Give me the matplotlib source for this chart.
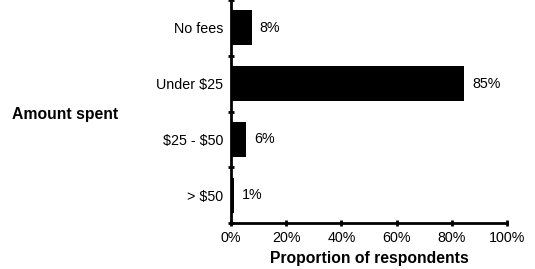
import matplotlib
matplotlib.use("Agg")
import matplotlib.pyplot as plt
from matplotlib.ticker import FixedLocator, NullFormatter

categories = ["No fees", "Under $25", "$25 - $50", "> $50"]
values = [7.5, 84.5, 5.5, 1]
value_labels = ["8%", "85%", "6%", "1%"]
xticks = [0, 20, 40, 60, 80, 100]
xtick_labels = ["0%", "20%", "40%", "60%", "80%", "100%"]

plt.rcParams['font.family'] = ['Liberation Sans', 'DejaVu Sans']
plt.rcParams['text.parse_math'] = False

fig = plt.figure(figsize=(5.35, 2.69), dpi=100)
ax = fig.add_axes([231/535, (269-223)/269, (507-231)/535, 223/269])

y = list(range(len(categories)))
ax.barh(y, values, height=0.63, color="black")
for yi, v, lab in zip(y, values, value_labels):
    ax.text(v + 2.8, yi, lab, va="center", ha="left", fontsize=10.3)

ax.set_xlim(0, 100)
ax.set_ylim(3.5, -0.5)
ax.set_yticks(y)
ax.set_yticklabels(categories, fontsize=10.3)
ax.yaxis.set_minor_locator(FixedLocator([-0.5, 0.5, 1.5, 2.5, 3.5]))
ax.yaxis.set_minor_formatter(NullFormatter())
ax.tick_params(axis="y", which="major", length=0, pad=5.5)
ax.tick_params(axis="y", which="minor", length=5, width=2, direction="inout")
ax.set_xticks(xticks)
ax.set_xticklabels(xtick_labels, fontsize=10.3)
ax.tick_params(axis="x", which="major", length=5, width=2, direction="inout", pad=3.5)

for s in ["top", "right"]:
    ax.spines[s].set_visible(False)
for s in ["left", "bottom"]:
    ax.spines[s].set_linewidth(2)

ax.set_xlabel("Proportion of respondents", fontsize=11.3, fontweight="bold", labelpad=4)
fig.text(12/535, 1 - 114/269, "Amount spent", fontsize=11.3, fontweight="bold", ha="left", va="center")

fig.savefig("out.png", dpi=100)
